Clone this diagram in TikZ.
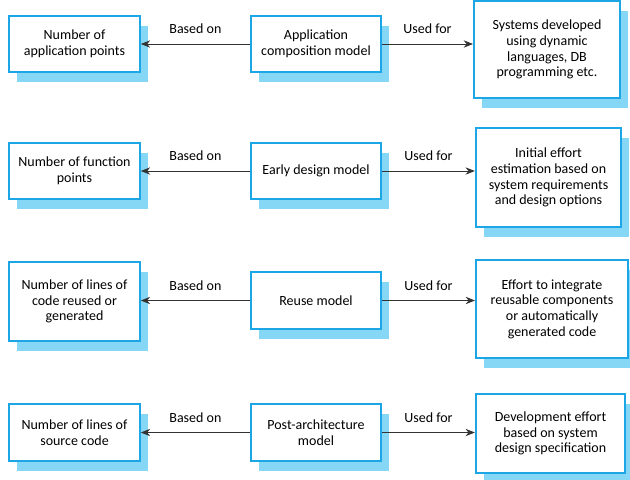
\documentclass[tikz,border=0pt]{standalone}
\usepackage{fontspec}
\setmainfont{Carlito}
\usepackage{xcolor}
\usetikzlibrary{arrows.meta,shadows}
\definecolor{boxblue}{HTML}{1DA6E6}
\definecolor{shadowblue}{HTML}{86D6F6}

\begin{document}
\begin{tikzpicture}[x=0.75pt,y=-0.75pt]
		\tikzset{box/.style={draw=boxblue, line width=1.5pt, fill=white, align=center, inner sep=2pt,
				font=\fontsize{10.5}{11.8}\selectfont,
				drop shadow={shadow xshift=6pt, shadow yshift=-7.5pt, fill=shadowblue, opacity=1}},
			basis/.style={box, minimum width=98pt, minimum height=42pt},
			model/.style={box, minimum width=97.5pt, minimum height=42pt},
			usage/.style={box},
			link/.style={draw=black!80, line width=0.6pt, -{Stealth[length=7pt,width=5.5pt]}},
			linklabel/.style={midway, above=4pt, font=\fontsize{10.5}{12}\selectfont}};
		\useasboundingbox (0,0) rectangle (630,479);
		
		% application composition
		\node[model] (appl) at (316,44) {Application\\composition model};
		\node[basis] (applpts) at (74.5,44) {Number of\\application points};
		\node[usage, minimum width=109.5pt, minimum height=73pt] (applsys) at (547,49.5) {Systems developed\\using dynamic\\languages, DB\\programming etc.};
		\draw[link] (appl.west) -- node[linklabel] {Based on} (applpts.east);
		\draw[link] (appl.east) -- node[linklabel] {Used for} (appl.east -| applsys.west);
		
		% early design
		\node[model] (early) at (316,171) {Early design model};
		\node[basis] (fpts) at (74.5,171) {Number of function\\points};
		\node[usage, minimum width=109pt, minimum height=74pt] (earlyuse) at (548.5,177.5) {Initial effort\\estimation based on\\system requirements\\and design options};
		\draw[link] (early.west) -- node[linklabel] {Based on} (fpts.east);
		\draw[link] (early.east) -- node[linklabel] {Used for} (early.east -| earlyuse.west);
		
		% reuse
		\node[model, minimum height=43pt] (reuse) at (316,300.5) {Reuse model};
		\node[basis, minimum height=59pt] (reuselines) at (74.5,301.5) {Number of lines of\\code reused or\\generated};
		\node[usage, minimum width=114pt, minimum height=73.5pt] (reuseint) at (552,309) {Effort to integrate\\reusable components\\or automatically\\generated code};
		\draw[link] (reuse.west) -- node[linklabel] {Based on} (reuse.west -| reuselines.east);
		\draw[link] (reuse.east) -- node[linklabel] {Used for} (reuse.east -| reuseint.west);
		
		% post-architecture
		\node[model, minimum height=43pt] (post) at (316,432.5) {Post-architecture\\model};
		\node[basis, minimum height=43pt] (srclines) at (74.5,432.5) {Number of lines of\\source code};
		\node[usage, minimum width=112pt, minimum height=59pt] (devel) at (550.5,433.5) {Development effort\\based on system\\design specification};
		\draw[link] (post.west) -- node[linklabel] {Based on} (srclines.east);
		\draw[link] (post.east) -- node[linklabel] {Used for} (post.east -| devel.west);
		
	\end{tikzpicture}
\end{document}
